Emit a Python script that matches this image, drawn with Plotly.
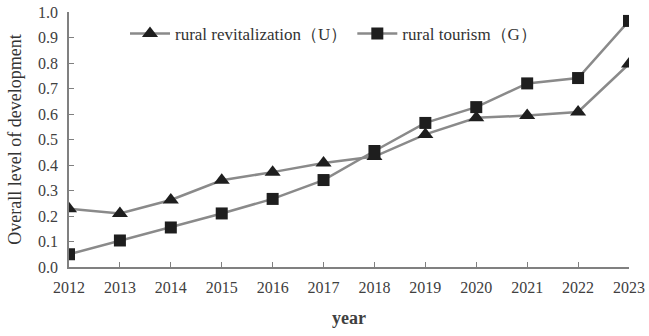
import plotly.graph_objects as go

years = [2012, 2013, 2014, 2015, 2016, 2017, 2018, 2019, 2020, 2021, 2022, 2023]
rural_revitalization = [0.228, 0.210, 0.263, 0.340, 0.372, 0.408, 0.433, 0.520, 0.585, 0.594, 0.608, 0.796]
rural_tourism = [0.050, 0.104, 0.155, 0.210, 0.267, 0.341, 0.455, 0.565, 0.627, 0.720, 0.741, 0.965]
y_ticks = [0.0, 0.1, 0.2, 0.3, 0.4, 0.5, 0.6, 0.7, 0.8, 0.9, 1.0]

FONT = "Liberation Serif"
LINE = "#8a8a8a"
MARK = "#1e1e1e"

fig = go.Figure()
fig.add_trace(go.Scatter(
    x=years, y=rural_revitalization, mode="lines+markers",
    name="rural revitalization（U）",
    line=dict(color=LINE, width=2.5),
    marker=dict(symbol="triangle-up", size=14, color=MARK, line=dict(width=0)),
))
fig.add_trace(go.Scatter(
    x=years, y=rural_tourism, mode="lines+markers",
    name="rural tourism（G）",
    line=dict(color=LINE, width=2.5),
    marker=dict(symbol="square", size=12, color=MARK, line=dict(width=0)),
))

fig.update_layout(
    width=649, height=336,
    margin=dict(l=69, r=20, t=12, b=69, autoexpand=False),
    paper_bgcolor="white", plot_bgcolor="white",
    font=dict(family=FONT, color="#333333", size=16),
    showlegend=True,
    legend=dict(
        orientation="h", x=0.10, y=0.985, xanchor="left", yanchor="top",
        font=dict(family=FONT, size=17, color="#333333"),
        bgcolor="rgba(0,0,0,0)", itemwidth=40, entrywidthmode="pixels",
    ),
    xaxis=dict(
        range=[2012, 2023], tickmode="array", tickvals=years,
        ticktext=[str(y) for y in years],
        showgrid=False, zeroline=False, automargin=False,
        showline=True, linecolor="#808080", linewidth=1.5,
        ticks="inside", ticklen=5, tickcolor="#808080",
        ticklabelstandoff=5,
        tickfont=dict(family=FONT, size=16, color="#404040"),
        title=dict(text="<b>year</b>", font=dict(family=FONT, size=18, color="#404040"), standoff=16),
    ),
    yaxis=dict(
        range=[0, 1.0], tickmode="array", tickvals=y_ticks,
        ticktext=[f"{v:.1f}" for v in y_ticks],
        showgrid=False, zeroline=False, automargin=False,
        showline=True, linecolor="#808080", linewidth=1.5,
        ticks="inside", ticklen=5, tickcolor="#808080",
        ticklabelstandoff=6,
        tickfont=dict(family=FONT, size=16, color="#404040"),
        title=dict(text="Overall level of development", font=dict(family=FONT, size=18, color="#333333"), standoff=12),
    ),
)

fig.write_html("out.html")
